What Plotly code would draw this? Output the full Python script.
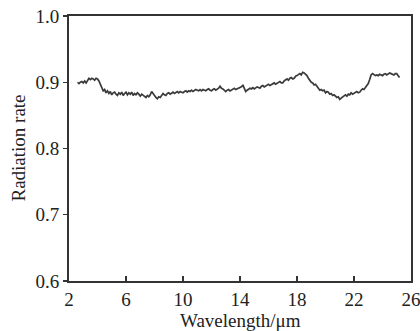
import plotly.graph_objects as go

# Radiation rate sampled every 0.1 um starting at 2.6 um
x_start = 2.6
x_step = 0.1
radiation_rate = [
    0.900, 0.898, 0.900, 0.901,
    0.899, 0.902, 0.899, 0.903, 0.906, 0.904, 0.906, 0.905, 0.903, 0.906,
    0.905, 0.902, 0.896, 0.890, 0.887, 0.889, 0.884, 0.887, 0.883, 0.886,
    0.881, 0.884, 0.885, 0.882, 0.880, 0.884, 0.882, 0.885, 0.880, 0.883,
    0.885, 0.881, 0.884, 0.882, 0.885, 0.880, 0.883, 0.881, 0.884, 0.882,
    0.879, 0.882, 0.880, 0.878, 0.877, 0.880, 0.878, 0.881, 0.886, 0.883,
    0.879, 0.877, 0.875, 0.878, 0.877, 0.880, 0.883, 0.881, 0.880, 0.883,
    0.884, 0.882, 0.883, 0.885, 0.883, 0.884, 0.886, 0.884, 0.886, 0.885,
    0.884, 0.886, 0.887, 0.885, 0.887, 0.886, 0.888, 0.886, 0.887, 0.889,
    0.888, 0.887, 0.889, 0.887, 0.889, 0.888, 0.887, 0.889, 0.890, 0.888,
    0.887, 0.889, 0.890, 0.888, 0.889, 0.891, 0.894, 0.891, 0.890, 0.888,
    0.886, 0.888, 0.889, 0.887, 0.888, 0.890, 0.891, 0.889, 0.890, 0.892,
    0.892, 0.893, 0.896, 0.890, 0.886, 0.888, 0.889, 0.891, 0.890, 0.892,
    0.890, 0.891, 0.893, 0.892, 0.891, 0.894, 0.895, 0.893, 0.894, 0.896,
    0.897, 0.895, 0.896, 0.898, 0.899, 0.897, 0.898, 0.900, 0.901, 0.899,
    0.899, 0.902, 0.904, 0.905, 0.903, 0.906, 0.907, 0.905, 0.906, 0.909,
    0.910, 0.912, 0.913, 0.911, 0.915, 0.914, 0.912, 0.910, 0.906, 0.903,
    0.900, 0.899, 0.896, 0.897, 0.893, 0.891, 0.888, 0.889, 0.887, 0.888,
    0.884, 0.886, 0.885, 0.882, 0.883, 0.880, 0.881, 0.879, 0.877, 0.878,
    0.874, 0.876, 0.878, 0.880, 0.881, 0.879, 0.882, 0.881, 0.884, 0.882,
    0.883, 0.885, 0.886, 0.884, 0.885, 0.888, 0.890, 0.889, 0.892, 0.895,
    0.898, 0.904, 0.911, 0.913, 0.912, 0.910, 0.911, 0.910, 0.912, 0.911,
    0.910, 0.912, 0.913, 0.911, 0.912, 0.914, 0.913, 0.912, 0.911, 0.913,
    0.913, 0.910, 0.907,
]
wavelength = [round(x_start + i * x_step, 2) for i in range(len(radiation_rate))]

x_ticks = [2, 6, 10, 14, 18, 22, 26]
y_ticks = [0.6, 0.7, 0.8, 0.9, 1.0]

fig = go.Figure()
fig.add_trace(go.Scatter(
    x=wavelength, y=radiation_rate, mode="lines",
    line=dict(color="#3a3a3a", width=1.7),
    showlegend=False,
))

serif = "Liberation Serif, Times New Roman, serif"
font = dict(family=serif, size=19, color="#222")
fig.update_layout(
    width=420, height=331,
    margin=dict(l=69, r=9, t=16, b=50, autoexpand=False),
    paper_bgcolor="white", plot_bgcolor="white",
    font=font,
    annotations=[
        dict(text="Wavelength/μm", xref="paper", yref="paper", x=0.5, y=-0.149,
             xanchor="center", yanchor="middle", showarrow=False,
             font=dict(family=serif, size=19, color="#222")),
        dict(text="Radiation rate", xref="paper", yref="paper", x=-0.149, y=0.5,
             xanchor="center", yanchor="middle", textangle=-90, showarrow=False,
             font=dict(family=serif, size=19, color="#222")),
    ],
)
fig.update_xaxes(
    range=[2, 26], tickvals=x_ticks, ticktext=[str(v) for v in x_ticks],
    tickangle=0, automargin=False, ticklabeloverflow="allow",
    ticks="inside", ticklen=5, tickwidth=1.2, tickcolor="#333",
    showline=True, linecolor="#333", linewidth=2, mirror=True,
    showgrid=False, zeroline=False,
)
fig.update_yaxes(
    range=[0.6, 1.0], tickvals=y_ticks, ticktext=[f"{v:.1f}" for v in y_ticks],
    automargin=False, ticklabeloverflow="allow",
    ticks="outside", ticklen=4, tickwidth=1.2, tickcolor="#333",
    showline=True, linecolor="#333", linewidth=2, mirror=True,
    showgrid=False, zeroline=False,
)

# remove the default page margin so the figure fills the window exactly
fig.write_html(
    "out.html",
    config={"displayModeBar": False, "staticPlot": True},
    post_script="document.body.style.margin='0';document.body.style.overflow='hidden';",
)
